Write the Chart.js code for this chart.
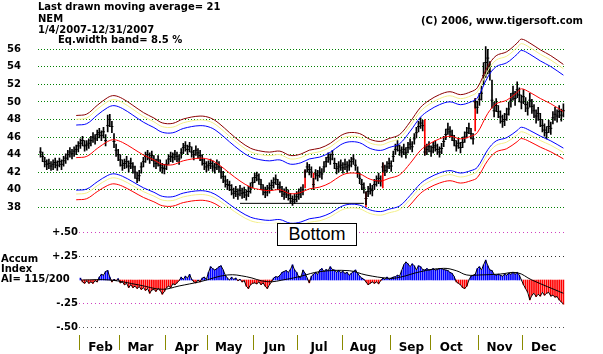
<!DOCTYPE html>
<html>
<head>
<meta charset="utf-8">
<title>NEM 2007</title>
<script src="https://cdn.jsdelivr.net/npm/chart.js@4.4.0/dist/chart.umd.min.js"></script>
<style>
  html, body { margin: 0; padding: 0; background: #fff; }
  #wrap { position: relative; width: 603px; height: 354px; overflow: hidden;
          font-family: "DejaVu Sans", sans-serif; font-weight: bold; font-size: 10px; line-height: 10px; color: #000; }
  canvas { position: absolute; left: 0; top: 0; }
  .t { position: absolute; white-space: pre; z-index: 5; }
  #bottomBox { position: absolute; left: 277px; top: 223px; width: 80px; height: 23px; box-sizing: border-box;
               border: 1px solid #000; background: #fff; font: 18px "Liberation Sans", Arial, sans-serif;
               line-height: 21px; text-align: center; z-index: 5; }
</style>
</head>
<body>
<div id="wrap">
  <canvas id="priceChart" width="603" height="354"></canvas>
  <canvas id="aiChart" width="603" height="354"></canvas>
  <div class="t" style="left:38px;top:2px">Last drawn moving average= 21</div>
  <div class="t" style="left:38px;top:14px">NEM</div>
  <div class="t" style="left:38px;top:25px">1/4/2007-12/31/2007</div>
  <div class="t" style="left:38px;top:35px;padding:0 3px 1px 20px;background:#fff">Eq.width band= 8.5 %</div>
  <div class="t" style="left:421px;top:15.5px">(C) 2006, www.tigersoft.com</div>
  <div class="t" style="left:1px;top:254px">Accum</div>
  <div class="t" style="left:1px;top:264px">Index</div>
  <div class="t" style="left:1px;top:274px">AI= 115/200</div>
  <div id="bottomBox">Bottom</div>
</div>
<script>
// daily bars, trading day 0 = Jan 4 2007
var closes = [44.3,43.8,43.2,42.9,43.0,42.7,42.9,43.1,42.8,43.2,42.9,43.3,43.6,44.0,44.3,44.1,44.4,44.6,45.0,45.3,
  45.6,45.0,45.1,45.3,45.6,46.0,45.8,46.3,46.5,46.2,46.6,45.6,47.3,48.0,47.2,45.5,44.5,44.0,43.4,42.8,
  43.0,43.2,42.7,43.0,42.6,42.0,41.3,41.6,42.6,43.2,43.8,44.0,43.6,43.9,43.3,43.0,43.4,42.8,42.5,42.4,
  42.9,43.5,43.8,43.7,44.0,43.8,43.5,44.2,44.8,45.0,44.6,44.9,44.3,44.0,44.5,44.2,43.9,43.4,43.0,42.6,
  42.8,43.0,42.7,42.5,42.9,42.6,42.0,41.5,41.0,40.6,40.5,40.0,39.6,39.8,39.5,39.9,39.6,39.7,39.4,39.8,
  40.2,40.8,41.4,41.6,41.2,40.6,40.0,39.7,39.9,40.2,40.5,40.8,41.2,40.6,40.3,39.8,39.5,39.7,39.4,39.0,
  38.7,38.9,39.2,39.5,39.7,40.0,42.0,42.6,42.3,42.0,40.6,41.8,41.6,42.0,41.8,42.6,43.2,43.7,43.5,44.0,
  43.0,42.4,42.6,42.8,42.5,42.9,42.6,42.8,43.2,43.5,42.8,42.0,41.3,40.6,40.2,39.0,39.8,40.1,39.9,40.6,
  41.0,41.3,41.0,42.6,42.2,42.6,43.0,42.7,43.8,44.6,45.0,44.5,44.3,44.6,44.2,44.8,45.2,44.9,45.8,46.5,
  47.2,47.6,47.3,44.3,44.6,44.9,44.4,44.8,45.0,44.6,44.3,44.7,45.5,46.3,46.9,46.6,46.2,45.6,45.0,45.3,
  44.8,45.4,46.0,46.5,47.0,46.4,45.8,50.0,49.4,50.3,51.0,53.0,54.5,55.0,53.5,50.2,49.0,49.6,48.9,48.3,
  47.8,48.0,48.6,49.2,50.2,51.0,50.4,51.4,50.8,50.0,50.6,49.7,49.3,50.2,49.5,49.0,48.4,48.7,48.0,47.3,
  46.8,46.5,47.2,47.0,48.2,48.6,48.4,48.9,48.5,49.0];
var highs = [44.8,44.3,43.7,43.4,43.5,43.2,43.4,43.6,43.3,43.6,43.4,43.8,44.1,44.5,44.8,44.6,44.9,45.1,45.5,45.8,
  46.1,45.6,45.6,45.8,46.1,46.5,46.3,46.8,47.0,46.7,47.1,46.3,48.5,48.6,47.8,46.4,45.2,44.6,44.0,43.4,
  43.5,43.8,43.3,43.6,43.1,42.7,42.0,42.2,43.1,43.7,44.3,44.5,44.2,44.4,43.9,43.5,43.9,43.4,43.0,42.9,
  43.4,44.0,44.3,44.2,44.5,44.3,44.0,44.7,45.3,45.5,45.1,45.4,44.9,44.5,45.0,44.7,44.5,44.0,43.5,43.2,
  43.3,43.5,43.3,43.0,43.4,43.2,42.6,42.1,41.6,41.2,41.0,40.6,40.2,40.4,40.1,40.5,40.2,40.3,40.0,40.4,
  40.8,41.4,41.9,42.0,41.8,41.2,40.6,40.3,40.5,40.8,41.1,41.4,41.7,41.2,40.9,40.4,40.1,40.3,40.0,39.6,
  39.3,39.5,39.8,40.1,40.3,40.6,42.3,43.1,42.9,42.6,41.3,42.3,42.2,42.6,42.4,43.2,43.7,44.2,44.1,44.5,
  43.6,43.0,43.2,43.4,43.1,43.5,43.2,43.4,43.7,44.0,43.4,42.6,41.9,41.2,40.8,39.8,40.4,40.7,40.5,41.2,
  41.6,41.9,41.6,43.1,42.8,43.2,43.6,43.3,44.4,45.2,45.6,45.1,44.9,45.2,44.8,45.4,45.8,45.5,46.4,47.1,
  47.8,48.2,47.9,45.0,45.2,45.5,45.0,45.4,45.6,45.2,44.9,45.3,46.1,46.9,47.6,47.2,46.8,46.2,45.6,45.9,
  45.4,46.0,46.6,47.1,47.6,47.0,46.4,50.4,50.1,51.0,51.8,54.5,56.3,56.0,54.6,52.5,50.0,50.4,49.6,49.0,
  48.5,48.7,49.3,50.0,51.0,51.8,51.2,52.3,51.6,50.8,51.4,50.5,50.0,51.0,50.3,49.7,49.1,49.4,48.7,48.0,
  47.5,47.2,47.9,47.7,48.9,49.4,49.1,49.6,49.2,49.8];
var lows = [43.7,43.2,42.6,42.3,42.4,42.2,42.3,42.5,42.2,42.6,42.3,42.7,43.0,43.4,43.7,43.5,43.8,44.0,44.3,44.7,
  45.0,44.4,44.5,44.7,45.0,45.4,45.2,45.6,45.9,45.6,45.9,45.0,46.6,47.2,46.5,44.8,43.8,43.3,42.7,42.2,
  42.4,42.5,42.0,42.4,41.9,41.3,40.8,41.0,41.9,42.6,43.1,43.4,43.0,43.3,42.6,42.4,42.7,42.1,41.9,41.8,
  42.3,42.9,43.2,43.1,43.4,43.2,42.9,43.6,44.1,44.4,44.0,44.3,43.7,43.4,43.9,43.6,43.3,42.8,42.3,42.0,
  42.2,42.4,42.1,41.9,42.3,42.0,41.3,40.8,40.3,40.0,39.9,39.4,39.0,39.2,38.9,39.3,39.0,39.1,38.8,39.2,
  39.6,40.2,40.8,41.0,40.6,40.0,39.4,39.1,39.3,39.6,39.9,40.2,40.6,40.0,39.7,39.2,38.9,39.1,38.8,38.5,
  38.2,38.4,38.6,38.9,39.1,39.4,41.4,42.0,41.7,41.4,40.0,41.2,41.0,41.4,41.2,42.0,42.6,43.1,42.9,43.4,
  42.4,41.8,42.0,42.2,41.9,42.3,42.0,42.2,42.6,42.9,42.2,41.4,40.7,40.0,39.6,38.3,39.2,39.5,39.3,40.0,
  40.4,40.7,40.4,42.0,41.6,42.0,42.4,42.1,43.2,44.0,44.4,43.9,43.7,44.0,43.6,44.2,44.6,44.3,45.2,45.9,
  46.6,47.0,46.7,43.9,44.0,44.3,43.8,44.2,44.4,44.0,43.7,44.1,44.9,45.7,46.3,46.0,45.6,45.0,44.4,44.7,
  44.2,44.8,45.4,45.9,46.4,45.8,45.2,49.3,48.7,49.6,50.2,52.0,52.8,53.2,52.5,49.3,48.3,48.9,48.2,47.6,
  47.1,47.3,47.9,48.5,49.4,50.2,49.6,50.5,50.0,49.2,49.8,48.9,48.5,49.4,48.7,48.2,47.6,47.9,47.2,46.6,
  46.1,45.8,46.5,46.3,47.5,47.9,47.7,48.2,47.8,48.3];

// gap lines drawn in red
var gapDays = [126, 130, 155, 163, 183, 207];
var gapFrom = [40.2, 41.9, 39.7, 40.2, 48.0, 46.7];
var gapTo   = [42.2, 40.3, 37.7, 43.0, 44.0, 50.4];

// 21-day moving average
var maDays   = [17,22,27,32,35,39,44,49,54,58,63,68,76,81,85,90,95,100,105,109,114,119,124,128,133,
  138,143,147,152,157,162,166,171,176,181,185,190,195,200,205,208,213,217,222,227,229,233,238,243,249];
var maValues = [43.66,43.8,44.7,45.5,45.7,45.4,44.7,43.96,43.4,42.9,42.85,43.3,43.6,43.4,42.85,41.9,41.0,40.3,40.0,39.9,40.0,39.55,39.7,40.1,40.3,
  40.8,41.6,41.9,41.8,41.2,41.0,41.3,41.7,43.0,44.5,45.2,45.8,46.1,45.8,46.1,46.5,48.7,49.8,50.2,51.1,51.5,51.1,50.4,49.8,48.9];

// support line under the "Bottom"
var supportDays = [95, 154];
var supportLevel = [38.45, 38.45];

var priceTicks = [38, 40, 42, 44, 46, 48, 50, 52, 54, 56];

// Accumulation Index, first value on trading day 19
var aiFirstDay = 19;
var aiValues = [0.02,-0.02,-0.035,-0.01,-0.035,-0.02,-0.035,-0.007,-0.02,0.03,0.06,0.05,
  0.09,0.10,0.03,-0.02,0.007,-0.007,0.014,-0.03,-0.02,-0.05,
  -0.035,-0.08,-0.05,-0.08,-0.065,-0.09,-0.07,-0.10,-0.08,-0.11,
  -0.09,-0.14,-0.105,-0.10,-0.12,-0.09,-0.11,-0.15,-0.12,-0.08,
  -0.065,-0.08,-0.04,-0.05,-0.03,-0.007,0.03,0.007,0.04,0.02,
  0.06,0.007,-0.02,-0.03,0,-0.02,0.02,0.03,0.007,0.08,
  0.14,0.12,0.105,0.12,0.14,0.15,0.105,0.05,0.02,0,
  0.03,0.007,0.02,-0.007,0.007,-0.02,-0.007,-0.065,-0.09,-0.05,
  -0.035,-0.03,-0.04,-0.02,-0.05,-0.03,-0.065,-0.09,-0.05,-0.02,
  0.02,0.035,0.03,0.05,0.08,0.09,0.10,0.08,0.11,0.16,
  0.105,0.08,0.03,0.03,0.105,0.07,0.02,-0.03,0.04,0.06,
  0.08,0.06,0.105,0.12,0.09,0.11,0.10,0.14,0.11,0.105,
  0.08,0.10,0.08,0.09,0.07,0.08,0.05,0.07,0.09,0.105,
  0.07,0.04,0.02,0.007,-0.02,-0.05,-0.035,-0.02,-0.035,-0.02,
  -0.04,-0.007,0.02,0.007,0.03,0.007,0.02,0.03,0.035,0.05,
  0.04,0.10,0.16,0.19,0.17,0.14,0.17,0.15,0.105,0.15,
  0.14,0.11,0.105,0.12,0.105,0.11,0.12,0.105,0.11,0.12,
  0.12,0.11,0.105,0.10,0.08,0.07,0.035,-0.02,-0.035,-0.05,
  -0.08,-0.09,-0.065,0,0.04,0.05,0.06,0.12,0.14,0.105,
  0.16,0.21,0.15,0.105,0.10,0.06,0.05,0.06,0.05,0.04,
  0.06,0.05,0.07,0.06,0.08,0.06,0.08,0.05,0,-0.05,
  -0.09,-0.13,-0.21,-0.16,-0.14,-0.175,-0.15,-0.17,-0.13,-0.16,
  -0.14,-0.13,-0.17,-0.16,-0.18,-0.175,-0.21,-0.23,-0.255];

// smoothed AI line
var aiMaDays   = [20,33,47,58,66,76,89,98,108,117,124,133,147,155,166,171,181,192,198,203,209,219,227,234,249];
var aiMaValues = [0,0,-0.053,-0.098,-0.063,-0.018,0.053,0.035,-0.018,0.007,0.04,0.088,0.098,0.053,0.018,0.028,0.088,0.123,0.098,0.053,0.053,0.063,0.077,0,-0.14];

var aiTickValues = [0.5, 0.25, -0.25, -0.5];
var aiTickLabels = ['+.50', '+.25', '-.25', '-.50'];
var aiTickColors = ['#d040c0', '#303030', '#d040c0', '#505050'];

var months = ['Feb','Mar','Apr','May','Jun','Jul','Aug','Sep','Oct','Nov','Dec'];
var monthStartDays = [19, 38, 60, 80, 102, 123, 144, 167, 186, 209, 230];

var BAND = 0.085;   // Eq.width band
var OUTER = 0.11;

function band(f) {
    return maDays.map(function(d, k) { return {x: d, y: maValues[k] * f}; });
}

function lineSet(data, color, extra) {
    var ds = {type: 'line', data: data, borderColor: color, borderWidth: 1,
              pointRadius: 0, tension: 0.35, fill: false};
    return Object.assign(ds, extra || {});
}

var boldFont = {family: 'DejaVu Sans', weight: 'bold', size: 10};

initPriceChart();
initAiChart();

/**
 * Price panel: bars, moving average and bands
 */
function initPriceChart() {
    var ctx = document.getElementById('priceChart').getContext('2d');
    var over = {left: 0, top: 0, right: 0, bottom: 16};

    var bars = closes.map(function(c, i) { return {x: i, y: [lows[i], highs[i]]}; });
    var closeTicks = closes.map(function(c, i) { return {x: i, y: c}; });
    var gaps = gapDays.map(function(d, k) { return {x: d, y: [gapFrom[k], gapTo[k]]}; });
    var support = supportDays.map(function(d, k) { return {x: d, y: supportLevel[k]}; });

    new Chart(ctx, {
        type: 'bar',
        data: {
            datasets: [
                lineSet(band(1 + OUTER), '#8b0000'),
                lineSet(band(1.10), '#f4f08a'),
                lineSet(band(1 + BAND), '#0000ff'),
                lineSet(band(1), '#ff0000'),
                lineSet(band(1 - BAND), '#0000ff', {clip: over}),
                lineSet(band(0.905), '#f4f08a', {clip: over}),
                lineSet(band(1 - OUTER), '#ff0000'),
                lineSet(support, '#000000', {tension: 0}),
                {type: 'bar', data: bars, backgroundColor: '#000000', barThickness: 1, grouped: false},
                {type: 'bar', data: gaps, backgroundColor: '#ff0000', barThickness: 1, grouped: false},
                {type: 'scatter', data: closeTicks, pointStyle: 'line', pointRadius: 1.5,
                 borderColor: '#000000', borderWidth: 1}
            ]
        },
        options: {
            responsive: false,
            animation: false,
            events: [],
            layout: {padding: {left: 0, right: 37, top: 16.8, bottom: 146.7}},
            plugins: {legend: {display: false}, tooltip: {enabled: false}},
            scales: {
                x: {type: 'linear', min: -1.19, max: 250.24, offset: false, display: false},
                y: {
                    min: 38, max: 59,
                    afterFit: function(s) { s.width = 38; },
                    afterBuildTicks: function(s) { s.ticks = priceTicks.map(function(v) { return {value: v}; }); },
                    ticks: {padding: 17, color: '#000', font: boldFont,
                            callback: function(v) { return String(v); }},
                    grid: {color: '#008000', drawTicks: false},
                    border: {display: false, dash: [1, 2]}
                }
            }
        }
    });
}

/**
 * Accumulation Index panel with month axis
 */
function initAiChart() {
    var ctx = document.getElementById('aiChart').getContext('2d');
    var aiPoints = aiValues.map(function(v, k) { return {x: aiFirstDay + k, y: v}; });
    var aiMa = aiMaDays.map(function(d, k) { return {x: d, y: aiMaValues[k]}; });

    new Chart(ctx, {
        type: 'bar',
        data: {
            datasets: [
                lineSet(aiMa, '#000000', {tension: 0.4}),
                lineSet(aiPoints, '#000000', {tension: 0}),
                {type: 'bar', data: aiPoints, barThickness: 1, grouped: false,
                 backgroundColor: function(c) { return c.raw && c.raw.y < 0 ? '#ff0000' : '#0000ff'; }}
            ]
        },
        options: {
            responsive: false,
            animation: false,
            events: [],
            layout: {padding: {left: 0, right: 37, top: 225, bottom: 0}},
            plugins: {legend: {display: false}, tooltip: {enabled: false}},
            scales: {
                x: {
                    type: 'linear', min: 18.33, max: 250.24, offset: false,
                    afterFit: function(s) { s.height = 19; },
                    afterBuildTicks: function(s) {
                        s.ticks = monthStartDays.map(function(d) { return {value: d - 0.4}; });
                    },
                    ticks: {autoSkip: false, maxRotation: 0, labelOffset: 21, padding: -9, color: '#000',
                            font: {family: 'DejaVu Sans', weight: 'bold', size: 12},
                            callback: function(v, i) { return months[i]; }},
                    grid: {drawOnChartArea: false, drawTicks: true, tickLength: 15,
                           color: '#8a8a00', tickColor: '#8a8a00', offset: false},
                    border: {display: false}
                },
                y: {
                    min: -0.58, max: 0.58,
                    afterFit: function(s) { s.width = 79; },
                    afterBuildTicks: function(s) { s.ticks = aiTickValues.map(function(v) { return {value: v}; }); },
                    ticks: {padding: 1, color: '#000', font: boldFont,
                            callback: function(v) { return aiTickLabels[aiTickValues.indexOf(v)]; }},
                    grid: {drawTicks: false, lineWidth: 1, color: aiTickColors},
                    border: {display: false, dash: [1, 3]}
                }
            }
        }
    });
}
</script>
</body>
</html>
